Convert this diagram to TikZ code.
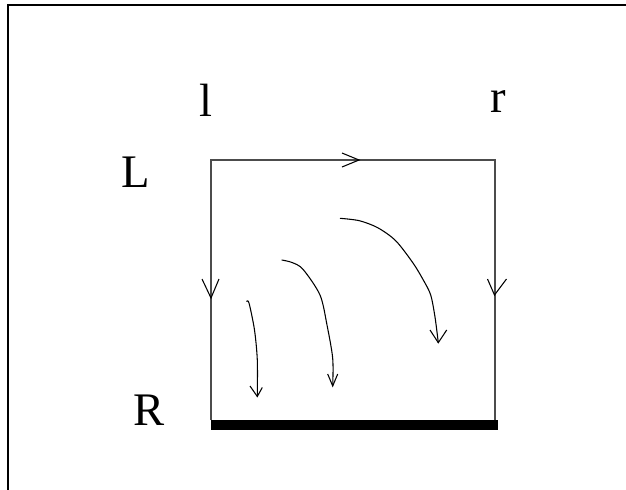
\documentclass[tikz,border=0pt]{standalone}
\usepackage{fontspec}
\setmainfont{Liberation Serif}
\begin{document}
\begin{tikzpicture}[x=0.75pt,y=-0.75pt,
  frame/.style={line width=1.5pt},
  edge/.style={line width=0.9pt, draw=black!70},
  flow/.style={line width=0.8pt, line join=round},
  barb/.style={line width=0.8pt},
  lbl/.style={inner sep=0pt, anchor=base west, font=\fontsize{35}{40}\selectfont}]
\useasboundingbox (0,0) rectangle (626,490);
\clip (0,0) rectangle (626,490);
% outer frame (only its top and left sides fall on the page)
\draw[frame] (8,500) -- (8,4.5) -- (640,4.5);
% the open box
\coordinate (tl) at (211,160);
\coordinate (tr) at (495,160);
\coordinate (bl) at (211,420);
\coordinate (br) at (495,420);
\draw[edge] (bl) -- (tl) -- (tr) -- (br);
% heavy bottom wall
\fill (211,420) rectangle (497.5,429.5);
% direction marks on the box sides
\draw[barb] (342,153) -- (359,160) -- (342,167);
\draw[barb] (202,279) -- (211,298) -- (219,279);
\draw[barb] (487.5,279) -- (494.5,295) -- (506.5,279);
% curved flow lines
\draw[flow] plot[smooth, tension=0.5] coordinates
  {(246.5,301.5) (249,303) (254.5,330) (257.3,360) (257.3,396.5)};
\draw[barb] (250,386) -- (257.3,396.5) -- (262.3,387.5);
\draw[flow] plot[smooth, tension=0.5] coordinates
  {(281.7,260) (292,262.5) (303,269.3) (320,295) (327,325) (332.7,358.3) (332.7,386)};
\draw[barb] (327.7,374) -- (332.7,386) -- (337.7,374);
\draw[flow] plot[smooth, tension=0.5] coordinates
  {(340,218.3) (359.3,220.7) (377.7,227.7) (395.7,240.7) (413,263) (423.3,280) (430.7,295) (435,317) (438.3,342.7)};
\draw[barb] (430,330) -- (438.3,342.7) -- (446.7,330);
% labels
\node[lbl] (lsmall) at (199,116.7) {l};
\node[lbl] (rsmall) at (490,112.7) {r};
\node[lbl] (Lbig) at (121,187.3) {L};
\node[lbl] (Rbig) at (133,425) {R};
\end{tikzpicture}
\end{document}
